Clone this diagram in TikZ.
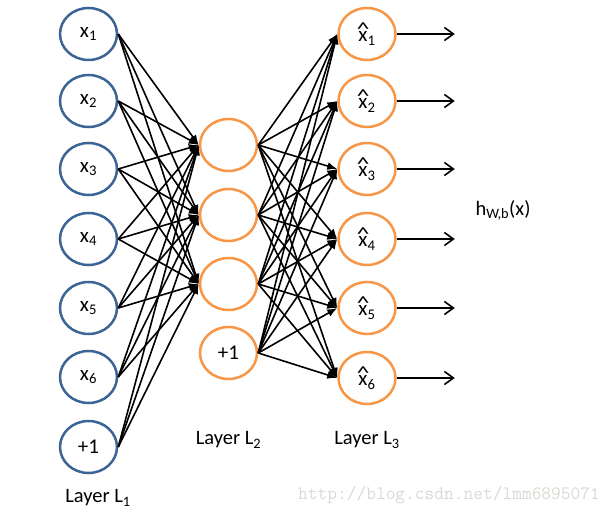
\documentclass[tikz,border=0pt]{standalone}
\usepackage{fontspec}
\setmainfont{Carlito}
\usetikzlibrary{shapes.geometric,arrows.meta}
\definecolor{inblue}{HTML}{3C6595}
\definecolor{hidorange}{HTML}{F79646}
\definecolor{wmgray}{HTML}{D9D9D4}
\newcommand{\xhat}[1]{\makebox[0pt][l]{\makebox[0.45em][c]{\raisebox{0.3em}{\scalebox{1.25}[0.9]{\textasciicircum}}}}x\textsubscript{#1}}
\begin{document}
\begin{tikzpicture}[x=1pt,y=-1pt,
  unit/.style={ellipse, draw, line width=2.5pt, minimum width=57pt, minimum height=52pt, inner sep=0pt, font=\fontsize{21}{25}\selectfont},
  inunit/.style={unit, draw=inblue},
  hidunit/.style={unit, draw=hidorange},
  wire/.style={line width=1.6pt, -{Latex[length=10pt,width=8pt]}},
  outwire/.style={line width=1.6pt, -{Straight Barb[length=9pt,width=13pt]}},
  layername/.style={font=\fontsize{20.5}{24}\selectfont}]
\useasboundingbox (0,0) rectangle (616,516);

\node[inunit](x1) at (88.5,34) {x\textsubscript{1}};
\node[inunit](x2) at (88.5,101) {x\textsubscript{2}};
\node[inunit](x3) at (88.5,169) {x\textsubscript{3}};
\node[inunit](x4) at (88.5,239) {x\textsubscript{4}};
\node[inunit](x5) at (88.5,308) {x\textsubscript{5}};
\node[inunit](x6) at (88.5,377) {x\textsubscript{6}};
\node[inunit](b1) at (88.5,447) {+1};

\node[hidunit](a1) at (228.5,145) {};
\node[hidunit](a2) at (228.5,215) {};
\node[hidunit](a3) at (228.5,284) {};
\node[hidunit](b2) at (228.5,353) {+1};

\node[hidunit](y1) at (367,34) {\xhat{1}};
\node[hidunit](y2) at (367,101) {\xhat{2}};
\node[hidunit](y3) at (367,169) {\xhat{3}};
\node[hidunit](y4) at (367,239) {\xhat{4}};
\node[hidunit](y5) at (367,308) {\xhat{5}};
\node[hidunit](y6) at (367,378) {\xhat{6}};

% input layer -> hidden layer
\foreach \i in {x1,x2,x3,x4,x5,x6,b1}
  \foreach \j in {1,2,3}
    \draw[wire] (\i.east) -- (a\j.west);

% hidden layer -> output layer
\foreach \j in {a1,a2,a3,b2}
  \foreach \k in {1,...,6}
    \draw[wire] (\j.east) -- (y\k.west);

\foreach \k in {1,...,6}{
  \coordinate (o\k) at ([xshift=58pt]y\k.east);
  \draw[outwire] (y\k.east) -- (o\k);
}

\node[layername](hout) at (503,210) {h\textsubscript{W,b}(x)};
\node[layername](l1) at (98,498) {Layer L\textsubscript{1}};
\node[layername](l2) at (228.5,440) {Layer L\textsubscript{2}};
\node[layername](l3) at (367,440) {Layer L\textsubscript{3}};

\node[font=\ttfamily\fontsize{18.9}{20}\selectfont, text=wmgray](mark) at (449,495) {http://blog.csdn.net/lmm6895071};

\end{tikzpicture}
\end{document}
